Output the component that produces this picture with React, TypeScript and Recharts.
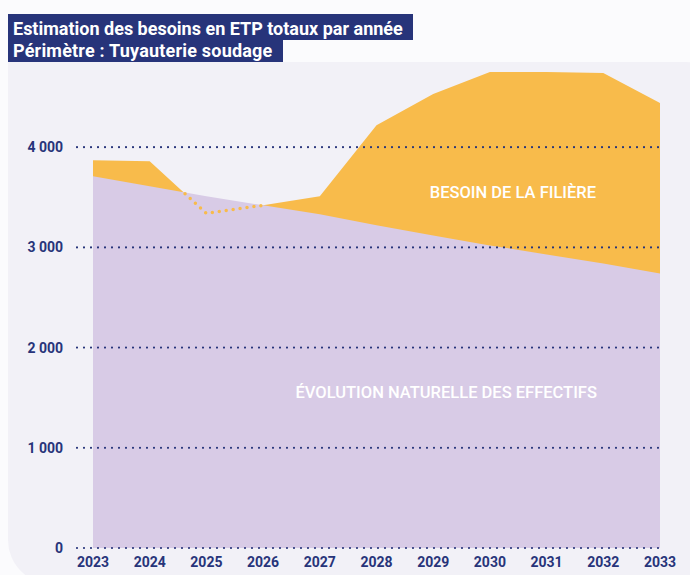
import React from 'react';
import {
  AreaChart,
  Area,
  Line,
  XAxis,
  YAxis,
  ReferenceLine,
  ReferenceDot,
} from 'recharts';

// ─── Data ─────────────────────────────────────────────────────────────────────

const YEARS = ['2023', '2024', '2025', '2026', '2027', '2028', '2029', '2030', '2031', '2032', '2033'];

// Besoin de la filière (ETP totaux)
const BESOIN = [3870, 3860, 3340, 3420, 3510, 4220, 4530, 4750, 4750, 4740, 4440];

// Évolution naturelle des effectifs
const NATUREL = [3710, 3610, 3510, 3420, 3330, 3220, 3120, 3020, 2930, 2840, 2740];

// Dotted dip of the besoin curve where it falls under the natural evolution
const DIP = [null, 3860, 3340, 3420, null, null, null, null, null, null, null];

const Y_TICKS = [0, 1000, 2000, 3000, 4000];

// ─── Palette ──────────────────────────────────────────────────────────────────

const NAVY = '#27347a';
const ORANGE = '#f8bb4b';
const LILAC = '#d8cbe6';
const CARD = '#f2f1f7';

const FONT = 'Roboto, "Noto Sans", sans-serif';

// leading gap hides the part of the dip that still runs along the orange edge
const DIP_DASH = ['0 49', ...Array(16).fill('0 7')].join(' ');

const chartData = YEARS.map((year, i) => ({
  year,
  besoin: BESOIN[i],
  naturel: NATUREL[i],
  dip: DIP[i],
}));

const formatThousands = (v: number) =>
  v >= 1000 ? `${Math.floor(v / 1000)} ${String(v % 1000).padStart(3, '0')}` : String(v);

const titleStyle: React.CSSProperties = {
  position: 'absolute',
  left: 8,
  background: NAVY,
  color: '#fff',
  fontSize: 18,
  fontWeight: 700,
  paddingLeft: 5,
  boxSizing: 'border-box',
  whiteSpace: 'nowrap',
};

export default function App() {
  return (
    <div
      style={{
        position: 'absolute',
        left: 0,
        top: 0,
        width: 690,
        height: 575,
        overflow: 'hidden',
        background: '#fbfbfd',
        fontFamily: FONT,
      }}
    >
      {/* card */}
      <div
        style={{
          position: 'absolute',
          left: 8,
          top: 62,
          width: 700,
          height: 522,
          background: CARD,
          borderTopRightRadius: 22,
          borderBottomLeftRadius: 44,
        }}
      />

      {/* title */}
      <div style={{ ...titleStyle, top: 14, width: 405, height: 26, lineHeight: '29px' }}>
        Estimation des besoins en ETP totaux par année
      </div>
      <div style={{ ...titleStyle, top: 40, width: 275, height: 22, lineHeight: '21px', letterSpacing: 0.2 }}>
        Périmètre : Tuyauterie soudage
      </div>

      <div style={{ position: 'absolute', left: 0, top: 0 }}>
        <AreaChart
          width={690}
          height={575}
          data={chartData}
          margin={{ top: 47, right: 30, bottom: 0, left: 0 }}
        >
          <XAxis
            dataKey="year"
            axisLine={false}
            tickLine={false}
            tickSize={0}
            tickMargin={9}
            height={27}
            padding={{ left: 16, right: 0 }}
            interval={0}
            tick={{ fill: NAVY, fontSize: 14, fontWeight: 700, fontFamily: FONT }}
          />
          <YAxis
            domain={[0, 5000]}
            ticks={Y_TICKS}
            axisLine={false}
            tickLine={false}
            tickSize={0}
            tickMargin={14}
            width={77}
            tickFormatter={formatThousands}
            tick={{ fill: NAVY, fontSize: 14, fontWeight: 700, fontFamily: FONT }}
          />

          <Area
            type="linear"
            dataKey="besoin"
            stroke="none"
            fill={ORANGE}
            fillOpacity={1}
            isAnimationActive={false}
          />
          <Area
            type="linear"
            dataKey="naturel"
            stroke="none"
            fill={LILAC}
            fillOpacity={1}
            isAnimationActive={false}
          />
          <Line
            type="linear"
            dataKey="dip"
            stroke={ORANGE}
            strokeWidth={3.5}
            strokeDasharray={DIP_DASH}
            strokeDashoffset={1}
            strokeLinecap="round"
            dot={false}
            activeDot={false}
            isAnimationActive={false}
          />

          {Y_TICKS.map((t) => (
            <ReferenceLine
              key={t}
              y={t}
              stroke={NAVY}
              strokeWidth={2.2}
              strokeDasharray="0 7"
              strokeLinecap="round"
            />
          ))}

          <ReferenceDot
            x="2030"
            y={3550}
            r={1}
            fill="none"
            stroke="none"
            label={{
              value: 'BESOIN DE LA FILIÈRE',
              position: 'center',
              dx: 23,
              fill: '#fff',
              fontSize: 16.5,
              fontWeight: 500,
              fontFamily: FONT,
            }}
          />
          <ReferenceDot
            x="2029"
            y={1560}
            r={1}
            fill="none"
            stroke="none"
            label={{
              value: 'ÉVOLUTION NATURELLE DES EFFECTIFS',
              position: 'center',
              dx: 13,
              fill: '#fff',
              fontSize: 16.5,
              fontWeight: 500,
              fontFamily: FONT,
            }}
          />
        </AreaChart>
      </div>
    </div>
  );
}
